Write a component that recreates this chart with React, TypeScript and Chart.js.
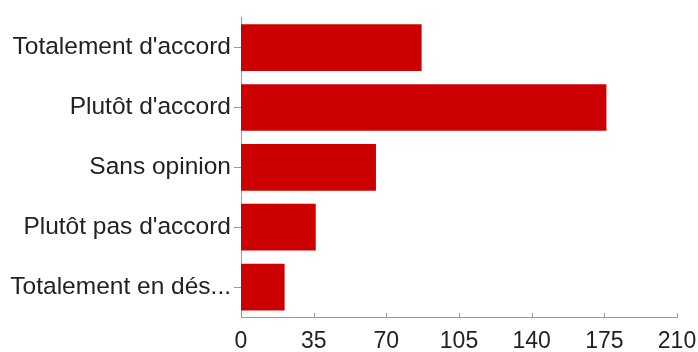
import React, { useEffect, useRef } from "react";
import { Chart, registerables } from "chart.js";

Chart.register(...registerables);

const categories = [
  "Totalement d'accord",
  "Plutôt d'accord",
  "Sans opinion",
  "Plutôt pas d'accord",
  "Totalement en dés...",
];
const counts = [87, 176, 65, 36, 21];
const xTicks = [0, 35, 70, 105, 140, 175, 210];

const innerTicks = {
  id: "innerTicks",
  afterDraw(chart: any) {
    const x = chart.scales.x;
    const c = chart.ctx;
    const y = chart.chartArea.bottom;
    c.save();
    c.strokeStyle = "#999999";
    c.lineWidth = 1;
    x.ticks.forEach((t: any) => {
      const px = Math.round(x.getPixelForValue(t.value)) + 0.5;
      c.beginPath();
      c.moveTo(px, y - 4);
      c.lineTo(px, y + 1);
      c.stroke();
    });
    c.restore();
  },
};

export default function App() {
  const ref = useRef<HTMLCanvasElement | null>(null);
  useEffect(() => {
    document.body.style.margin = "0";
    const ctx = ref.current!;
    const chart = new Chart(ctx, {
      type: "bar",
      data: {
        labels: categories,
        datasets: [
          {
            data: counts,
            backgroundColor: "#cc0000",
            borderWidth: 0,
            barPercentage: 0.78,
            categoryPercentage: 1,
          },
        ],
      },
      options: {
        indexAxis: "y",
        animation: false,
        responsive: false,
        layout: { padding: { top: 15, right: 0, left: 0, bottom: 0 } },
        plugins: { legend: { display: false }, tooltip: { enabled: false } },
        scales: {
          x: {
            min: 0,
            max: 210,
            afterBuildTicks: (s: any) => {
              s.ticks = xTicks.map((v) => ({ value: v }));
            },
            afterFit: (s: any) => {
              s.height = 35;
              s.paddingRight = 21;
            },
            grid: { display: false },
            border: { color: "#999999" },
            ticks: {
              color: "#222222",
              font: { family: "Liberation Sans, Arial", size: 23 },
              padding: 3,
              maxRotation: 0,
            },
          },
          y: {
            afterFit: (s: any) => {
              s.width = 241;
            },
            grid: {
              display: true,
              drawOnChartArea: false,
              offset: false,
              tickLength: 7,
              color: "#999999",
            },
            border: { color: "#999999" },
            ticks: {
              color: "#222222",
              font: { family: "Liberation Sans, Arial", size: 24.5 },
              padding: 3,
            },
          },
        },
      },
      plugins: [innerTicks],
    });
    return () => chart.destroy();
  }, []);
  return (
    <div style={{ position: "fixed", left: 0, top: 0, width: 698, height: 352, background: "#fff" }}>
      <canvas ref={ref} width={698} height={352} />
    </div>
  );
}
